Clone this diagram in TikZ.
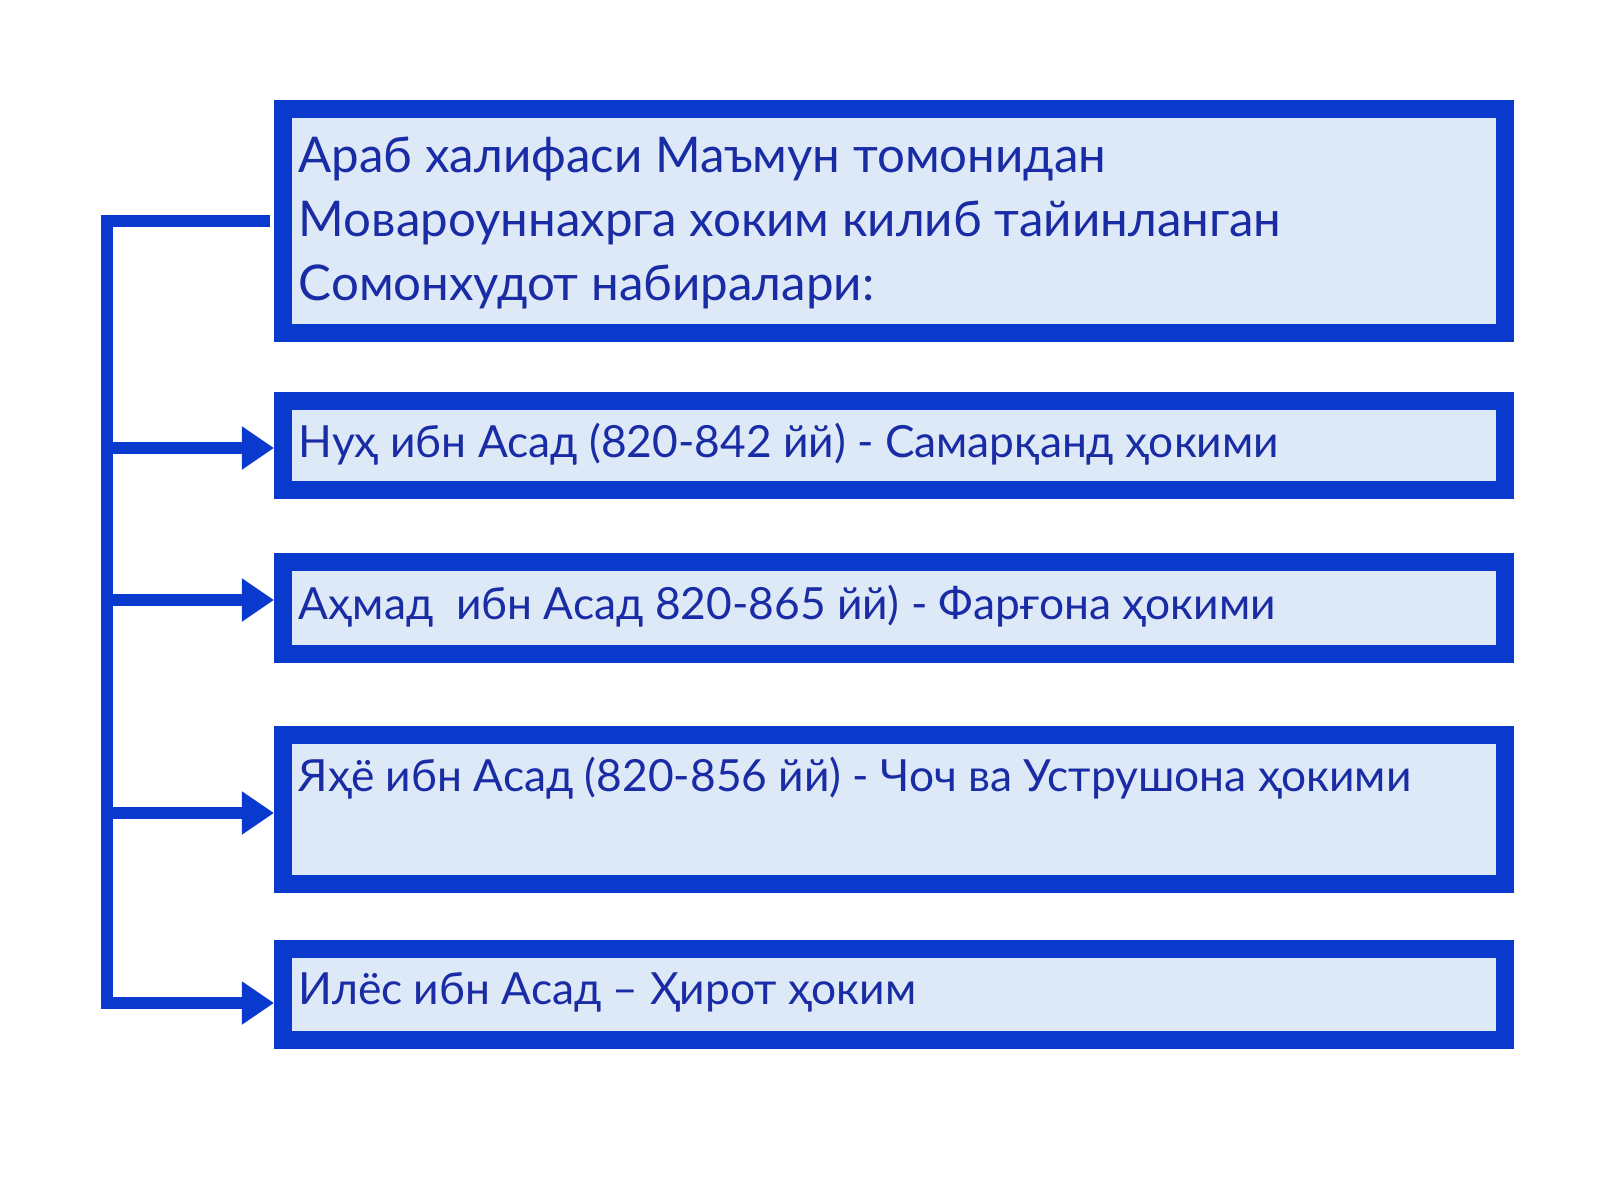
\documentclass[tikz,border=0pt]{standalone}
\usepackage{fontspec}
\setmainfont{Lato}
\usetikzlibrary{arrows.meta}
\definecolor{edge}{RGB}{10,58,205}
\definecolor{ink}{RGB}{26,44,165}
\definecolor{paper}{RGB}{221,233,247}
\tikzset{
  box/.style={draw=edge,fill=paper,line width=0.18cm,inner sep=0pt,anchor=north west,minimum width=12.21cm},
  txt/.style={text=ink,inner sep=0pt,anchor=base west,font=\fontsize{12.6}{18.2}\selectfont},
  head/.style={txt,font=\fontsize{14}{18.2}\selectfont},
  link/.style={draw=edge,line width=0.12cm},
  arr/.style={link,-{Triangle[length=0.32cm,width=0.41cm]}}
}
\begin{document}
\begin{tikzpicture}[x=0.01cm,y=-0.01cm]
\useasboundingbox[fill=white](0,0)rectangle(1600,1200);
\node[box,minimum height=2.24cm](b1)at(274,100){};
\node[box,minimum height=0.89cm](b2)at(274,392){};
\node[box,minimum height=0.92cm](b3)at(274,553){};
\node[box,minimum height=1.49cm](b4)at(274,726){};
\node[box,minimum height=0.91cm](b5)at(274,940){};
\node[head](t1a)at(298,172){Араб халифаси Маъмун томонидан};
\node[head](t1b)at(298,236){Мовароуннахрга хоким килиб тайинланган};
\node[head](t1c)at(298,300){Сомонхудот набиралари:};
\node[txt](t2)at(298,457){Нуҳ ибн Асад (820-842 йй) - Самарқанд ҳокими};
\node[txt](t3)at(298,619){Аҳмад\ \ ибн Асад 820-865 йй) - Фарғона ҳокими};
\node[txt](t4)at(298,791){Яҳё ибн Асад (820-856 йй) - Чоч ва Уструшона ҳокими};
\node[txt](t5)at(298,1004){Илёс ибн Асад – Ҳирот ҳоким};
\coordinate(sp)at(107,1003);
\draw[link]([xshift=-0.04cm]b1.west)-|(sp);
\draw[arr](sp|-0,448)--(b2.west|-0,448);
\draw[arr](sp|-0,600)--(b3.west|-0,600);
\draw[arr](sp|-0,813)--(b4.west|-0,813);
\draw[arr]([xshift=-0.06cm]sp)--(b5.west|-0,1003);
\end{tikzpicture}
\end{document}
